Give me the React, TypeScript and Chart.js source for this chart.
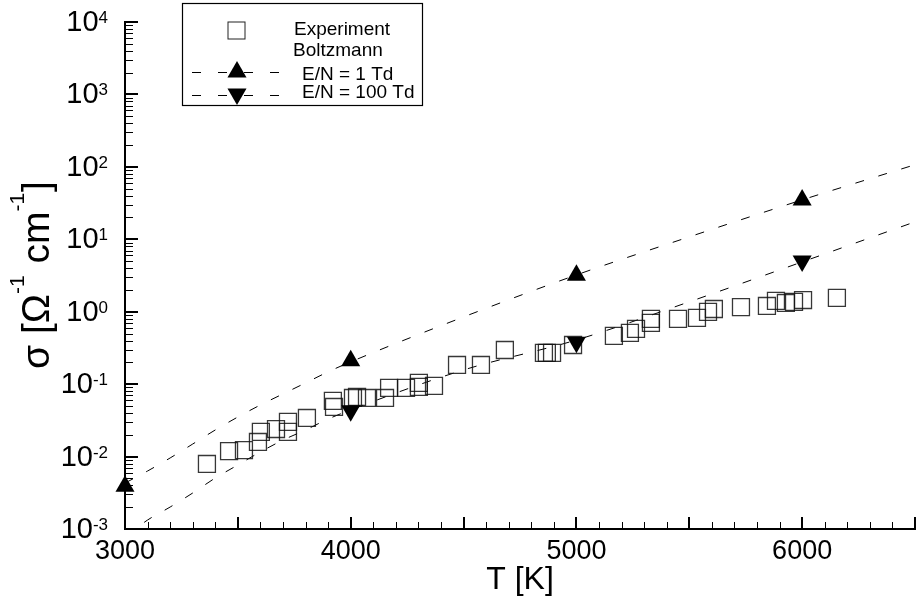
import React, { useEffect, useRef } from "react";
import { Chart, registerables } from "chart.js";

Chart.register(...registerables);

// Measured conductivity (temperature in K, sigma in 1/(Ohm cm))
const expT = [
  3363, 3461, 3527, 3589, 3602, 3669, 3722, 3722, 3806, 3921, 3926, 4010, 4028, 4072, 4152,
  4170, 4245, 4302, 4302, 4369, 4471, 4577, 4683, 4856, 4869, 4892, 4985, 5166, 5237, 5264,
  5330, 5330, 5450, 5534, 5583, 5609, 5729, 5844, 5884, 5928, 5964, 6004, 6154,
];
const expSigma = [
  0.0079, 0.0119, 0.0123, 0.0159, 0.0219, 0.024, 0.0301, 0.0219, 0.0341, 0.0586, 0.0484, 0.0644,
  0.0666, 0.0644, 0.0644, 0.0887, 0.0887, 0.104, 0.0915, 0.0944, 0.184, 0.184, 0.296, 0.27,
  0.27, 0.27, 0.347, 0.463, 0.509, 0.578, 0.7, 0.796, 0.796, 0.821, 0.994, 1.09, 1.16, 1.2,
  1.41, 1.32, 1.37, 1.45, 1.55,
];

// Boltzmann solution curves
const curveT = [3000, 3100, 3200, 3300, 3400, 3500, 3600, 3700, 3800, 3900, 4000, 4500, 5000, 5500, 6000, 6500];
const curveSigma1Td = [
  0.00431, 0.00632, 0.00957, 0.0149, 0.0233, 0.0352, 0.0516, 0.0733, 0.104, 0.148, 0.203,
  0.847, 3.22, 10.8, 35.0, 107,
];
const curveSigma100Td = [
  0.000776, 0.00133, 0.00201, 0.00314, 0.00506, 0.00766, 0.0116, 0.0169, 0.0233, 0.033, 0.0441,
  0.157, 0.407, 1.37, 4.87, 17.4,
];

// Marked Boltzmann points
const mark1TdT = [3000, 4000, 5000, 6000];
const mark1TdSigma = [0.0039, 0.21, 3.2, 35];
const mark100TdT = [4000, 5000, 6000];
const mark100TdSigma = [0.043, 0.38, 5.0];

// Axis ranges and tick settings
const xMin = 3000;
const xMax = 6500;
const xMajorStep = 500;
const xMinorStep = 100;
const xLabelValues = [3000, 4000, 5000, 6000];
const yDecades = [-3, -2, -1, 0, 1, 2, 3, 4];

const FONT = "'Liberation Sans', Arial, Helvetica, sans-serif";

const toPoints = (xs: number[], ys: number[]) => xs.map((x, i) => ({ x, y: ys[i] }));

function drawTriangle(ctx: CanvasRenderingContext2D, x: number, y: number, r: number, down: boolean) {
  const s = down ? -1 : 1;
  ctx.beginPath();
  ctx.moveTo(x, y - s * r);
  ctx.lineTo(x + r * Math.sin((2 * Math.PI) / 3), y + s * r * 0.5);
  ctx.lineTo(x - r * Math.sin((2 * Math.PI) / 3), y + s * r * 0.5);
  ctx.closePath();
  ctx.fill();
}

const axesPlugin = {
  id: "tecAxes",
  beforeDatasetsDraw(chart: any) {
    const ctx: CanvasRenderingContext2D = chart.ctx;
    const xs = chart.scales.x;
    const ys = chart.scales.y;
    const { left, right, top, bottom } = chart.chartArea;
    ctx.save();
    ctx.strokeStyle = "#000";
    ctx.lineCap = "butt";

    // x ticks (pointing inwards)
    for (let t = xMin; t <= xMax + 0.1; t += xMinorStep) {
      const px = Math.round(xs.getPixelForValue(t));
      const major = Math.abs(t / xMajorStep - Math.round(t / xMajorStep)) < 1e-6;
      ctx.lineWidth = major ? 2 : 1;
      const len = major ? 12 : 7;
      ctx.beginPath();
      ctx.moveTo(px + (major ? 0 : 0.5), bottom);
      ctx.lineTo(px + (major ? 0 : 0.5), bottom - len);
      ctx.stroke();
    }

    // y ticks (pointing inwards)
    for (let i = 0; i < yDecades.length; i++) {
      const d = yDecades[i];
      const base = Math.pow(10, d);
      const py = Math.round(ys.getPixelForValue(base));
      ctx.lineWidth = 2;
      ctx.beginPath();
      ctx.moveTo(left, py);
      ctx.lineTo(left + 13, py);
      ctx.stroke();
      if (i < yDecades.length - 1) {
        for (let m = 2; m <= 9; m++) {
          const pm = Math.round(ys.getPixelForValue(m * base)) + 0.5;
          ctx.lineWidth = 1;
          ctx.beginPath();
          ctx.moveTo(left, pm);
          ctx.lineTo(left + 8, pm);
          ctx.stroke();
        }
      }
    }

    // axis lines
    ctx.lineWidth = 2;
    ctx.beginPath();
    ctx.moveTo(left, top - 1);
    ctx.lineTo(left, bottom);
    ctx.lineTo(right + 1, bottom);
    ctx.stroke();
    ctx.restore();
  },
  afterDraw(chart: any) {
    const ctx: CanvasRenderingContext2D = chart.ctx;
    const xs = chart.scales.x;
    const ys = chart.scales.y;
    const { left, bottom } = chart.chartArea;
    ctx.save();
    ctx.fillStyle = "#000";

    // x tick labels
    ctx.font = `27px ${FONT}`;
    ctx.textAlign = "center";
    ctx.textBaseline = "middle";
    for (const v of xLabelValues) {
      ctx.fillText(String(v), xs.getPixelForValue(v), bottom + 23);
    }

    // y tick labels: 10 with superscript exponent
    const labelRight = left - 17;
    for (const d of yDecades) {
      const py = ys.getPixelForValue(Math.pow(10, d));
      const exp = String(d);
      ctx.font = `17px ${FONT}`;
      const wExp = ctx.measureText(exp).width;
      ctx.font = `29px ${FONT}`;
      const wBase = ctx.measureText("10").width;
      ctx.textAlign = "left";
      ctx.textBaseline = "middle";
      ctx.fillText("10", labelRight - wExp - wBase, py + 1);
      ctx.font = `17px ${FONT}`;
      ctx.textBaseline = "alphabetic";
      ctx.fillText(exp, labelRight - wExp, py + 1);
    }

    // x axis title
    ctx.font = `32px ${FONT}`;
    ctx.textAlign = "center";
    ctx.textBaseline = "alphabetic";
    ctx.fillText("T [K]", 520, 589);

    // y axis title, rotated, with superscripts
    ctx.save();
    ctx.translate(49, 369);
    ctx.rotate(-Math.PI / 2);
    ctx.textAlign = "left";
    ctx.textBaseline = "alphabetic";
    const parts: [string, boolean][] = [
      ["σ [Ω", false],
      ["-1", true],
      [" cm", false],
      ["-1", true],
      ["]", false],
    ];
    let cx = 0;
    for (const [txt, sup] of parts) {
      ctx.font = sup ? `21px ${FONT}` : `39px ${FONT}`;
      ctx.fillText(txt, cx, sup ? -25 : 0);
      cx += ctx.measureText(txt).width + (sup ? 1 : 0);
    }
    ctx.restore();

    // legend
    const bx = 182, by = 3, bw = 240, bh = 102;
    ctx.fillStyle = "#fff";
    ctx.fillRect(bx, by, bw, bh);
    ctx.strokeStyle = "#000";
    ctx.lineWidth = 1.2;
    ctx.strokeRect(bx + 0.5, by + 0.5, bw, bh);

    ctx.lineWidth = 1;
    ctx.strokeStyle = "#222";
    ctx.strokeRect(228, 22, 17, 17);

    ctx.strokeStyle = "#000";
    ctx.setLineDash([9, 17]);
    ctx.beginPath();
    ctx.moveTo(192, 72.5);
    ctx.lineTo(279, 72.5);
    ctx.moveTo(192, 95.5);
    ctx.lineTo(279, 95.5);
    ctx.stroke();
    ctx.setLineDash([]);
    ctx.fillStyle = "#000";
    drawTriangle(ctx, 237, 72, 11, false);
    drawTriangle(ctx, 237, 94, 11, true);

    ctx.font = `19px ${FONT}`;
    ctx.textAlign = "left";
    ctx.textBaseline = "middle";
    ctx.fillText("Experiment", 294, 30);
    ctx.fillText("Boltzmann", 293, 51);
    ctx.fillText("E/N = 1 Td", 302, 75);
    ctx.fillText("E/N = 100 Td", 302, 93);
    ctx.restore();
  },
};

export default function App() {
  const canvasRef = useRef<HTMLCanvasElement | null>(null);

  useEffect(() => {
    if (!canvasRef.current) return;
    const chart = new Chart(canvasRef.current, {
      type: "scatter",
      data: {
        datasets: [
          {
            label: "E/N = 1 Td",
            data: toPoints(mark1TdT, mark1TdSigma),
            pointStyle: "triangle",
            pointRadius: 11,
            backgroundColor: "#000",
            borderColor: "#000",
            borderWidth: 0,
            showLine: false,
            clip: false,
          } as any,
          {
            label: "E/N = 100 Td",
            data: toPoints(mark100TdT, mark100TdSigma),
            pointStyle: "triangle",
            rotation: 180,
            pointRadius: 11,
            backgroundColor: "#000",
            borderColor: "#000",
            borderWidth: 0,
            showLine: false,
            clip: false,
          } as any,
          {
            label: "Experiment",
            data: toPoints(expT, expSigma),
            pointStyle: "rect",
            pointRadius: 12,
            backgroundColor: "rgba(0,0,0,0)",
            borderColor: "rgba(20,20,20,0.85)",
            borderWidth: 1.3,
            showLine: false,
          } as any,
          {
            label: "Boltzmann 1 Td",
            type: "line",
            data: toPoints(curveT, curveSigma1Td),
            borderColor: "#000",
            borderWidth: 1,
            borderDash: [9, 15],
            pointRadius: 0,
            cubicInterpolationMode: "monotone",
            fill: false,
          } as any,
          {
            label: "Boltzmann 100 Td",
            type: "line",
            data: toPoints(curveT, curveSigma100Td),
            borderColor: "#000",
            borderWidth: 1,
            borderDash: [9, 15],
            pointRadius: 0,
            cubicInterpolationMode: "monotone",
            fill: false,
          } as any,
        ],
      },
      options: {
        animation: false,
        responsive: false,
        layout: { autoPadding: false, padding: { top: 22, right: 2, left: 0, bottom: 0 } },
        plugins: { legend: { display: false }, tooltip: { enabled: false } },
        events: [],
        scales: {
          x: {
            type: "linear",
            min: xMin,
            max: xMax,
            grid: { display: false },
            border: { display: false },
            ticks: { display: false },
            afterFit: (s: any) => {
              s.height = 71;
            },
          },
          y: {
            type: "logarithmic",
            min: 1e-3,
            max: 1e4,
            grid: { display: false },
            border: { display: false },
            ticks: { display: false },
            afterFit: (s: any) => {
              s.width = 125;
            },
          },
        },
      },
      plugins: [axesPlugin],
    });
    return () => chart.destroy();
  }, []);

  return (
    <div style={{ position: "fixed", left: 0, top: 0, width: 917, height: 600, background: "#fff" }}>
      <canvas ref={canvasRef} width={917} height={600} style={{ width: 917, height: 600 }} />
    </div>
  );
}
